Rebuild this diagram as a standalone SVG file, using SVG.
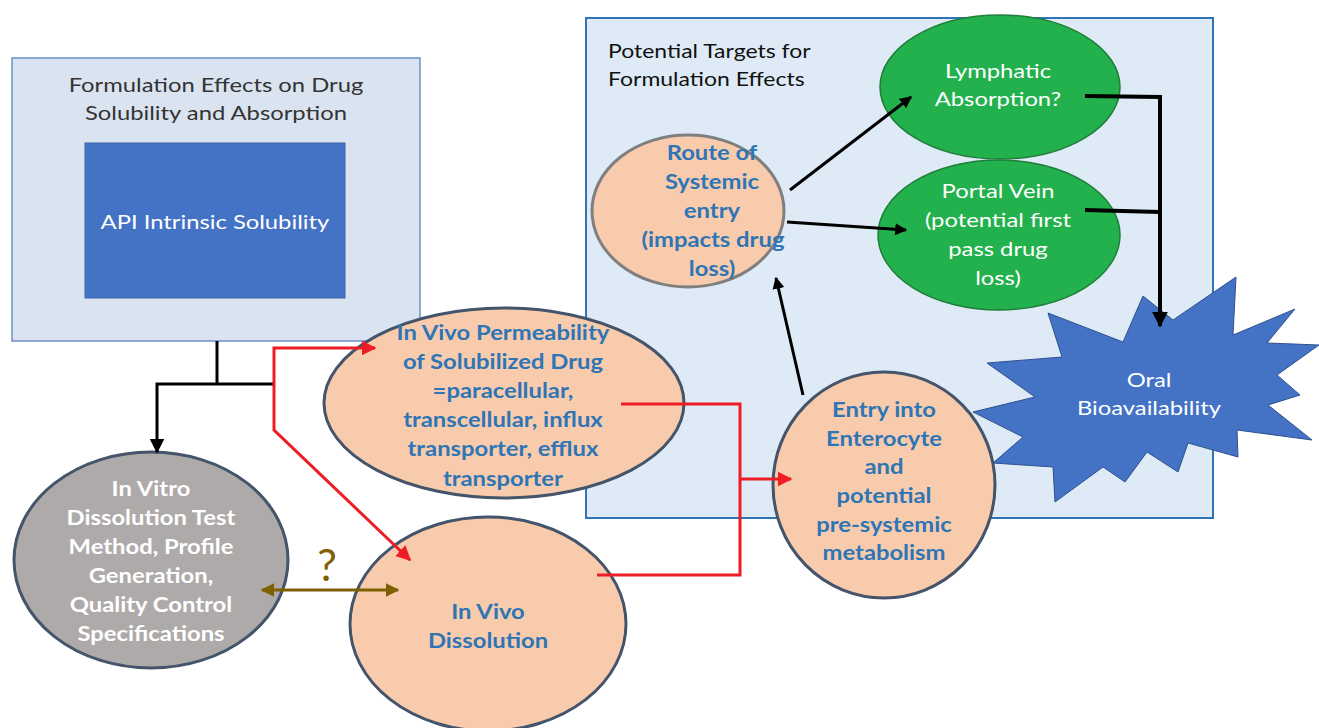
<svg xmlns="http://www.w3.org/2000/svg" width="1319" height="728" viewBox="0 0 1319 728">
<defs>
<style>
.t{font-family:Lato,"Open Sans","Liberation Sans",sans-serif;text-anchor:middle;transform-box:fill-box;transform-origin:center;transform:scaleX(1.19)}
.tl{font-family:Lato,"Open Sans","Liberation Sans",sans-serif;transform-box:fill-box;transform-origin:left center;transform:scaleX(1.21);font-size:19px;fill:#111}
.b{font-weight:bold;fill:#2e75b6;font-size:20px}
.w{fill:#ffffff;font-size:20px}
.wb{fill:#ffffff;font-size:20px;font-weight:bold}
.peach{fill:#f8cbad;stroke:#44546a;stroke-width:3}
.green{fill:#22b14c;stroke:#1e7e3a;stroke-width:1.5}
</style>
<marker id="ab" viewBox="0 0 10 10" refX="9" refY="5" markerWidth="5" markerHeight="5" orient="auto-start-reverse" markerUnits="strokeWidth"><path d="M0,0 L10,5 L0,10 z" fill="#000"/></marker>
<marker id="ab2" viewBox="0 0 10 10" refX="9" refY="5" markerWidth="4" markerHeight="4" orient="auto-start-reverse" markerUnits="strokeWidth"><path d="M0,0 L10,5 L0,10 z" fill="#000"/></marker>
<marker id="ar" viewBox="0 0 10 10" refX="9" refY="5" markerWidth="5" markerHeight="5" orient="auto-start-reverse" markerUnits="strokeWidth"><path d="M0,0 L10,5 L0,10 z" fill="#ee1c24"/></marker>
<marker id="ag" viewBox="0 0 10 10" refX="9" refY="5" markerWidth="4.5" markerHeight="4.5" orient="auto-start-reverse" markerUnits="strokeWidth"><path d="M0,0 L10,5 L0,10 z" fill="#7f6000"/></marker>
</defs>
<rect width="1319" height="728" fill="#ffffff"/>

<g id="left-box">
<rect x="12" y="58" width="408" height="283" fill="#dae3f0" stroke="#6f8fc9" stroke-width="1.5"/>
<text class="t" x="216" y="92" font-size="20" fill="#333">Formulation Effects on Drug</text>
<text class="t" x="216" y="120" font-size="20" fill="#333">Solubility and Absorption</text>
</g>
<g id="api">
<rect x="85" y="143" width="260" height="155" fill="#4472c4" stroke="#3b64ad" stroke-width="1"/>
<text class="t w" x="215" y="229">API Intrinsic Solubility</text>
</g>

<g id="right-box">
<rect x="586" y="18" width="627" height="500" fill="#deeaf5" stroke="#2e75b6" stroke-width="2"/>
<text class="tl" x="608" y="58">Potential Targets for</text>
<text class="tl" x="608" y="86">Formulation Effects</text>
</g>

<g id="star">
<path d="M1048,313 L1123,342 L1143,296 L1173,320 L1236,277 L1233,335 L1295,309 L1267,343 L1319,345 L1277,375 L1300,395 L1268,405 L1312,440 L1237,430 L1238,457 L1188,443 L1178,472 L1147,452 L1125,482 L1103,467 L1055,502 L1053,467 L993,463 L1023,437 L973,412 L1035,397 L987,363 L1062,357 Z" fill="#4472c4" stroke="#2f528f" stroke-width="1"/>
<text class="t w" x="1149" y="387" font-size="19">Oral</text>
<text class="t w" x="1149" y="415" font-size="19">Bioavailability</text>
</g>

<g id="lymphatic">
<ellipse class="green" cx="1000" cy="87" rx="120" ry="72"/>
<text class="t w" x="998" y="78">Lymphatic</text>
<text class="t w" x="998" y="106">Absorption?</text>
</g>
<g id="portal">
<ellipse class="green" cx="999" cy="235" rx="121" ry="75"/>
<text class="t w" x="998" y="198">Portal Vein</text>
<text class="t w" x="998" y="227">(potential first</text>
<text class="t w" x="998" y="256">pass drug</text>
<text class="t w" x="998" y="285">loss)</text>
</g>
<g id="route">
<ellipse cx="688" cy="211" rx="96" ry="76" fill="#f8cbad" stroke="#7f7f7f" stroke-width="3"/>
<text class="t b" x="712" y="160">Route of</text>
<text class="t b" x="712" y="189">Systemic</text>
<text class="t b" x="712" y="218">entry</text>
<text class="t b" x="713" y="247">(impacts drug</text>
<text class="t b" x="712" y="276">loss)</text>
</g>
<g id="permeability">
<ellipse class="peach" cx="504" cy="403" rx="180" ry="95"/>
<text class="t b" x="503" y="340">In Vivo Permeability</text>
<text class="t b" x="503" y="369">of Solubilized Drug</text>
<text class="t b" x="503" y="398">=paracellular,</text>
<text class="t b" x="503" y="427">transcellular, influx</text>
<text class="t b" x="503" y="456">transporter, efflux</text>
<text class="t b" x="503" y="486">transporter</text>
</g>
<g id="invitro">
<ellipse cx="151" cy="560" rx="137" ry="108" fill="#aeaaaa" stroke="#44546a" stroke-width="3"/>
<text class="t wb" x="151" y="496">In Vitro</text>
<text class="t wb" x="151" y="525">Dissolution Test</text>
<text class="t wb" x="151" y="554">Method, Profile</text>
<text class="t wb" x="151" y="583">Generation,</text>
<text class="t wb" x="151" y="612">Quality Control</text>
<text class="t wb" x="151" y="641">Specifications</text>
</g>
<g id="invivo-dissolution">
<ellipse class="peach" cx="488" cy="624" rx="138" ry="107"/>
<text class="t b" x="488" y="619">In Vivo</text>
<text class="t b" x="488" y="648">Dissolution</text>
</g>
<g id="entry">
<ellipse class="peach" cx="884" cy="485" rx="111" ry="113"/>
<text class="t b" x="884" y="417">Entry into</text>
<text class="t b" x="884" y="446">Enterocyte</text>
<text class="t b" x="884" y="474">and</text>
<text class="t b" x="884" y="503">potential</text>
<text class="t b" x="884" y="532">pre-systemic</text>
<text class="t b" x="884" y="560">metabolism</text>
</g>

<g id="connectors" fill="none">
<path d="M217,341 V384" stroke="#000" stroke-width="3"/>
<path d="M274,384 H157 V452" stroke="#000" stroke-width="3" marker-end="url(#ab)"/>
<path d="M375,348 H274 V430 L410,560" stroke="#ee1c24" stroke-width="3" marker-start="url(#ar)" marker-end="url(#ar)"/>
<path d="M621,404 H740 V575 H597" stroke="#ee1c24" stroke-width="3"/>
<path d="M740,479 H791" stroke="#ee1c24" stroke-width="3" marker-end="url(#ar)"/>
<path d="M803,395 L776,278" stroke="#000" stroke-width="3" marker-end="url(#ab2)"/>
<path d="M790,190 L911,97" stroke="#000" stroke-width="3" marker-end="url(#ab2)"/>
<path d="M787,222 L906,230" stroke="#000" stroke-width="3" marker-end="url(#ab2)"/>
<path d="M1085,96 L1160,97 V326" stroke="#000" stroke-width="4" marker-end="url(#ab2)"/>
<path d="M1085,210 L1160,212" stroke="#000" stroke-width="4"/>
<path d="M262,590 H398" stroke="#7f6000" stroke-width="3" marker-start="url(#ag)" marker-end="url(#ag)"/>
<text x="327" y="581" font-family="Lato,'Open Sans','Liberation Sans',sans-serif" font-size="44" fill="#7f6000" text-anchor="middle">?</text>
</g>
</svg>
